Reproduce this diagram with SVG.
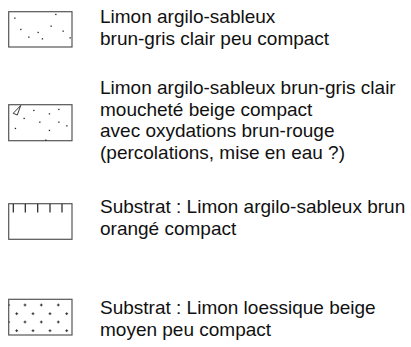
<svg xmlns="http://www.w3.org/2000/svg" width="411" height="347" viewBox="0 0 411 347">
<style>
.box{fill:#fff;stroke:#555;stroke-width:1.2}
.dot{fill:#222}
.tick{stroke:#222;stroke-width:1.2}
.plus{stroke:#222;stroke-width:0.9}
text{font-family:"Liberation Sans",Arial,sans-serif;font-size:19px;fill:#111}
</style>
<rect width="411" height="347" fill="#fff"/>
<g id="legend1">
<rect class="box" x="8.7" y="11.7" width="63.3" height="35.3"/>
<g class="dot">
<rect x="14.2" y="17.5" width="1.3" height="1.3"/><rect x="55.2" y="13.8" width="1.3" height="1.3"/>
<rect x="20.2" y="28.8" width="1.3" height="1.3"/><rect x="50.5" y="25.5" width="1.3" height="1.3"/>
<rect x="37.5" y="31.8" width="1.3" height="1.3"/><rect x="62.5" y="30.5" width="1.3" height="1.3"/>
<rect x="28.2" y="36.5" width="1.3" height="1.3"/><rect x="41.8" y="38.2" width="1.3" height="1.3"/>
<rect x="69.5" y="37.2" width="1.3" height="1.3"/>
</g>
<text x="100" y="23">Limon argilo-sableux</text>
<text x="100" y="44.5">brun-gris clair peu compact</text>
</g>
<g id="legend2">
<rect class="box" x="8.7" y="104.7" width="63.3" height="36"/>
<polygon points="20.7,105.5 13.2,113.3 17.3,115" fill="none" stroke="#222" stroke-width="0.9"/>
<g class="dot">
<rect x="33.2" y="109.8" width="1.3" height="1.3"/><rect x="58.2" y="108.8" width="1.3" height="1.3"/>
<rect x="48.8" y="113.2" width="1.3" height="1.3"/><rect x="23.5" y="117.8" width="1.3" height="1.3"/>
<rect x="39.2" y="121.5" width="1.3" height="1.3"/><rect x="58.2" y="121.5" width="1.3" height="1.3"/>
<rect x="66.2" y="125.2" width="1.3" height="1.3"/><rect x="14.8" y="127.8" width="1.3" height="1.3"/>
<rect x="48.8" y="129.8" width="1.3" height="1.3"/><rect x="45.2" y="139.5" width="1.3" height="1.3"/>
</g>
<text x="100" y="94">Limon argilo-sableux brun-gris clair</text>
<text x="100" y="115.7">moucheté beige compact</text>
<text x="100" y="137.4">avec oxydations brun-rouge</text>
<text x="100" y="159.1">(percolations, mise en eau ?)</text>
</g>
<g id="legend3">
<rect class="box" x="8.7" y="203.7" width="63.3" height="35.6"/>
<path class="tick" d="M13.3,204V212.5M25.3,204V212.5M37.7,204V212.5M50,204V212.5M62,204V212.5"/>
<text x="100" y="213.3">Substrat : Limon argilo-sableux brun</text>
<text x="100" y="234.5">orangé compact</text>
</g>
<g id="legend4">
<rect class="box" x="8.7" y="299.3" width="63.3" height="35.7"/>
<path class="plus" d="M23.6,305h2.8M25,303.6v2.8M39.9,305h2.8M41.3,303.6v2.8M56.9,305h2.8M58.3,303.6v2.8
M15.3,313.7h2.8M16.7,312.3v2.8M31.6,313.7h2.8M33,312.3v2.8M48.6,313.7h2.8M50,312.3v2.8M65.3,313.7h2.8M66.7,312.3v2.8
M23.6,322h2.8M25,320.6v2.8M39.9,322h2.8M41.3,320.6v2.8M56.9,322h2.8M58.3,320.6v2.8
M15.3,330.7h2.8M16.7,329.3v2.8M31.6,330.7h2.8M33,329.3v2.8M48.6,330.7h2.8M50,329.3v2.8M65.3,330.7h2.8M66.7,329.3v2.8
M8.7,305h1.4M8.7,322h1.4"/>
<text x="100" y="314.3">Substrat : Limon loessique beige</text>
<text x="100" y="336">moyen peu compact</text>
</g>
</svg>
